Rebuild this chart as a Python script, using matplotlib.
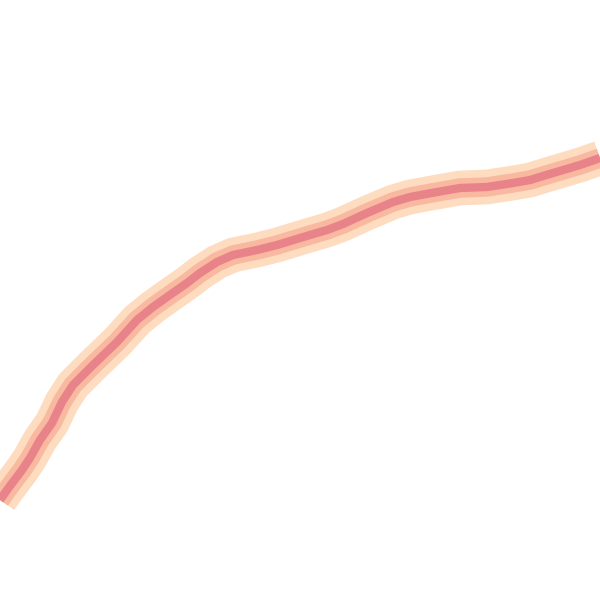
import matplotlib
matplotlib.use("Agg")
import matplotlib.pyplot as plt

# ==========================
# Data
# ==========================

x_vals = [0, 7, 22, 30, 40, 52, 62, 73, 93, 117, 137, 153, 167, 187, 200,
          217, 233, 257, 277, 300, 310, 327, 343, 367, 393, 410, 437, 460,
          487, 513, 530, 553, 580, 600]
y_vals = [500, 490, 470, 458, 440, 423, 402, 385, 365, 342, 320, 307, 297, 283, 273,
          262, 255, 250, 245, 238, 235, 230, 224, 213, 202, 197, 192, 188,
          187, 183, 180, 173, 165, 158]

# ==========================
# Plot
# ==========================

fig = plt.figure(figsize=(6, 6), dpi=100)
ax = fig.add_axes([0, 0, 1, 1])

# soft glow band, then the core line
ax.plot(x_vals, y_vals, color="#fedcc0", lw=25, solid_capstyle="butt", solid_joinstyle="round")
ax.plot(x_vals, y_vals, color="#f9b8a0", lw=14, solid_capstyle="butt", solid_joinstyle="round")
ax.plot(x_vals, y_vals, color="#e8838a", lw=6, solid_capstyle="butt", solid_joinstyle="round")

ax.set_xlim(0, 600)
ax.set_ylim(600, 0)
ax.axis("off")

fig.savefig("out.png", dpi=100, facecolor="white")
